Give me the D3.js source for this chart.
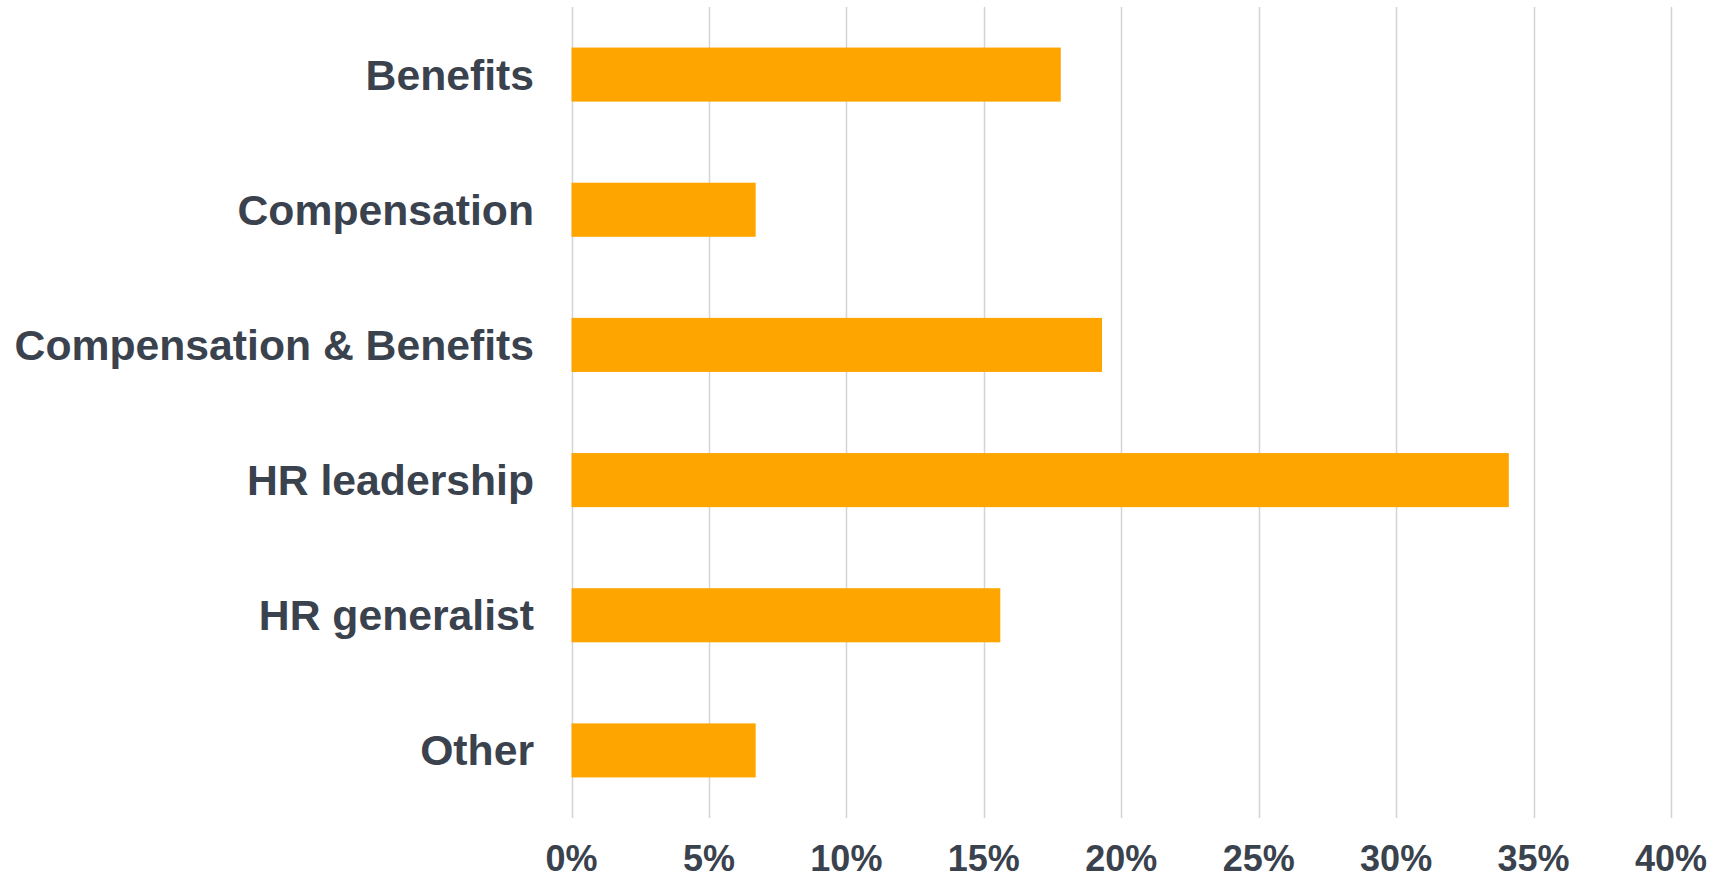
<!DOCTYPE html>
<html>
<head>
<meta charset="utf-8">
<script src="https://cdn.jsdelivr.net/npm/d3@7"></script>
<style>
  html, body { margin: 0; padding: 0; background: #fff; }
  svg { display: block; }
</style>
</head>
<body>
<svg id="chart"></svg>
<script>
const categories = ['Benefits', 'Compensation', 'Compensation & Benefits', 'HR leadership', 'HR generalist', 'Other'];
const values = [17.8, 6.7, 19.3, 34.1, 15.6, 6.7];
const xTicks = [0, 5, 10, 15, 20, 25, 30, 35, 40];

const width = 1729;
const height = 879;

const textColor = '#3a424e';
const barColor = '#ffa500';
const gridColor = '#d4d4d4';

const svg = d3.select('#chart')
  .attr('width', width)
  .attr('height', height);

const x = d3.scaleLinear()
  .domain([0, 40])
  .range([571.5, 1671]);

const y = d3.scaleBand()
  .domain(categories)
  .range([7, 818])
  .paddingInner(0.6)
  .paddingOuter(0.3);

// vertical gridlines
svg.append('g')
  .selectAll('line')
  .data(xTicks)
  .join('line')
    .attr('x1', d => Math.round(x(d)) + 0.5)
    .attr('x2', d => Math.round(x(d)) + 0.5)
    .attr('y1', 7)
    .attr('y2', 818)
    .attr('stroke', gridColor)
    .attr('stroke-width', 1.5);

// bars
svg.append('g')
  .selectAll('rect')
  .data(categories)
  .join('rect')
    .attr('x', x(0))
    .attr('y', d => y(d))
    .attr('width', (d, i) => x(values[i]) - x(0))
    .attr('height', y.bandwidth())
    .attr('fill', barColor);

// category labels
svg.append('g')
  .selectAll('text')
  .data(categories)
  .join('text')
    .attr('x', 534)
    .attr('y', d => y(d) + y.bandwidth() / 2)
    .attr('dy', '0.35em')
    .attr('text-anchor', 'end')
    .attr('font-family', 'Liberation Sans, Arial, sans-serif')
    .attr('font-weight', 'bold')
    .attr('font-size', 42.7)
    .attr('fill', textColor)
    .text(d => d);

// x tick labels
svg.append('g')
  .selectAll('text')
  .data(xTicks)
  .join('text')
    .attr('x', d => x(d))
    .attr('y', 858)
    .attr('dy', '0.35em')
    .attr('text-anchor', 'middle')
    .attr('font-family', 'Liberation Sans, Arial, sans-serif')
    .attr('font-weight', 'bold')
    .attr('font-size', 36)
    .attr('fill', textColor)
    .text(d => d + '%');
</script>
</body>
</html>
